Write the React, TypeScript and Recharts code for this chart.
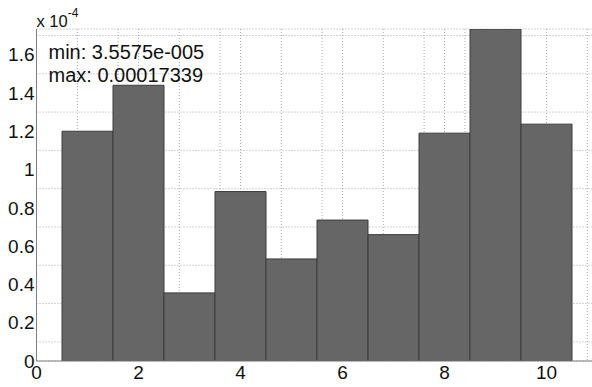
import React from "react";
import {
  BarChart,
  Bar,
  XAxis,
  YAxis,
  CartesianGrid,
  Label,
} from "recharts";

// bin centres and bin values
const bins = [1, 2, 3, 4, 5, 6, 7, 8, 9, 10];
const binValues = [
  1.2e-4, 1.44e-4, 3.5575e-5, 0.885e-4, 0.533e-4, 0.736e-4, 0.66e-4, 1.19e-4,
  1.7339e-4, 1.237e-4,
];

// axis ticks
const xTicks = [0, 2, 4, 6, 8, 10];
const yTicks = [0, 0.2e-4, 0.4e-4, 0.6e-4, 0.8e-4, 1e-4, 1.2e-4, 1.4e-4, 1.6e-4];
const yTickLabels = ["0", "0.2", "0.4", "0.6", "0.8", "1", "1.2", "1.4", "1.6"];

// dotted grid every 0.4 along x and every 0.1e-4 along y
const xGridTicks = Array.from({ length: 28 }, (_, i) => +(i * 0.4).toFixed(1));
const yGridTicks = Array.from({ length: 18 }, (_, i) => +(i * 1e-5).toFixed(6));

const X_MAX = 11;
const CHART_W = 600;
const CHART_H = 387;
const AXIS_W = 36.5;
const RIGHT = 2.5;
const FONT = "'Liberation Sans', Arial, Helvetica, sans-serif";

const data = bins.map((b, i) => ({ bin: b, value: binValues[i] }));
const yMax = Math.max(...binValues);
const yMin = Math.min(...binValues);

// matlab style num2str for the min/max readout
const fmtExp = (v: number) => {
  const [m, e] = v.toExponential(4).split("e");
  return `${m}e${e[0]}${e.slice(1).padStart(3, "0")}`;
};
const fmtShort = (v: number) => String(Number(v.toPrecision(5)));

const Annotations = (props: any) => {
  const vb = props.viewBox || { x: 0, y: 0, width: AXIS_W };
  const left = vb.x + vb.width;
  const top = vb.y;
  return (
    <g fontFamily={FONT} fill="#111">
      <text x={left} y={top - 2} fontSize={16.5}>
        x 10
        <tspan dy={-10} fontSize={12}>
          -4
        </tspan>
      </text>
      <text x={left + 12} y={top + 30} fontSize={20}>
        {`min: ${fmtExp(yMin)}`}
      </text>
      <text x={left + 12} y={top + 53} fontSize={20}>
        {`max: ${fmtShort(yMax)}`}
      </text>
    </g>
  );
};

export default function App() {
  return (
    <div
      style={{
        position: "fixed",
        left: 0,
        top: 0,
        width: 592,
        height: 387,
        overflow: "hidden",
        background: "#fff",
      }}
    >
      <BarChart
        width={CHART_W}
        height={CHART_H}
        data={data}
        margin={{ top: 29, right: RIGHT, left: 0, bottom: 0 }}
        barCategoryGap={0}
        barGap={0}
      >
        <XAxis xAxisId="grid" type="number" dataKey="bin" domain={[0, X_MAX]} ticks={xGridTicks} allowDataOverflow hide />
        <YAxis yAxisId="grid" type="number" domain={[0, yMax]} ticks={yGridTicks} allowDataOverflow hide />
        <CartesianGrid
          xAxisId="grid"
          yAxisId="grid"
          stroke="#a9a9a9"
          strokeDasharray="1 2"
        />
        <XAxis
          xAxisId="top"
          orientation="top"
          type="number"
          dataKey="bin"
          domain={[0, X_MAX]}
          allowDataOverflow
          height={0}
          tick={false}
          tickLine={false}
          axisLine={{ stroke: "#808080" }}
        />
        <XAxis
          type="number"
          dataKey="bin"
          domain={[0, X_MAX]}
          ticks={xTicks}
          allowDataOverflow
          interval={0}
          height={26}
          tickSize={0}
          tickMargin={5}
          tickLine={false}
          axisLine={{ stroke: "#808080" }}
          tick={{ fill: "#111", fontSize: 19, fontFamily: FONT }}
        />
        <YAxis
          type="number"
          domain={[0, yMax]}
          ticks={yTicks}
          allowDataOverflow
          interval={0}
          width={AXIS_W}
          tickSize={0}
          tickMargin={2}
          tickLine={false}
          axisLine={{ stroke: "#808080" }}
          tick={{ fill: "#111", fontSize: 19, fontFamily: FONT }}
          tickFormatter={(v: number) => yTickLabels[yTicks.indexOf(v)] ?? ""}
        >
          <Label content={<Annotations />} />
        </YAxis>
        <Bar
          dataKey="value"
          fill="#666666"
          stroke="#3c3c3c"
          strokeWidth={1}
          isAnimationActive={false}
        />
      </BarChart>
    </div>
  );
}
